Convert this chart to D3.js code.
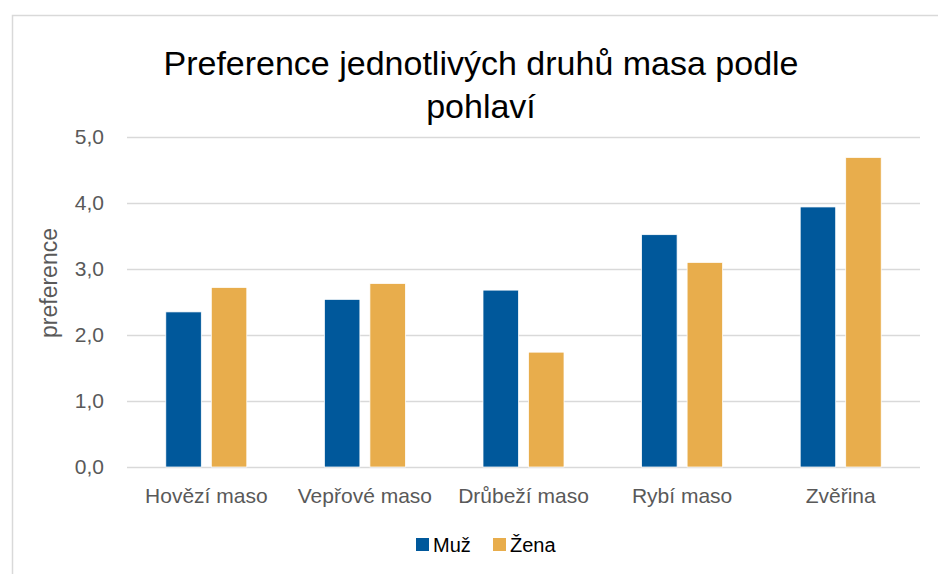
<!DOCTYPE html>
<html>
<head>
<meta charset="utf-8">
<script src="https://cdn.jsdelivr.net/npm/d3@7"></script>
<style>
  body { margin: 0; background: #fff; }
  svg text { font-family: "Liberation Sans", Arial, sans-serif; }
</style>
</head>
<body>
<div id="chart"></div>
<script>
// data
var categories = ["Hovězí maso", "Vepřové maso", "Drůbeží maso", "Rybí maso", "Zvěřina"]
var seriesNames = ["Muž", "Žena"]
var muz = [2.35, 2.54, 2.68, 3.52, 3.94]
var zena = [2.72, 2.78, 1.74, 3.10, 4.69]
var yTicks = [0, 1, 2, 3, 4, 5]

var width = 938, height = 574
var margin = {left: 127, right: 18, top: 137, bottom: 107}
var colors = ["#00589b", "#e8ad4c"]

var svg = d3.select("#chart").append("svg")
  .attr("width", width)
  .attr("height", height)

// ramecek grafu
svg.append("path")
  .attr("d", "M12.5,574 V15.5 H938")
  .attr("fill", "none")
  .attr("stroke", "#d9d9d9")
  .attr("stroke-width", 1.5)

var x0 = d3.scaleBand()
  .domain(categories)
  .range([margin.left, width - margin.right])

var x1 = d3.scaleBand()
  .domain(seriesNames)
  .range([0, 81])
  .paddingInner(0.22)

var y = d3.scaleLinear()
  .domain([0, 5])
  .range([height - margin.bottom, margin.top])

// mrizka
svg.append("g")
  .selectAll("line")
  .data(yTicks)
  .enter().append("line")
  .attr("x1", margin.left)
  .attr("x2", width - margin.right)
  .attr("y1", function(d) { return Math.round(y(d)) + 0.5 })
  .attr("y2", function(d) { return Math.round(y(d)) + 0.5 })
  .attr("stroke", "#d9d9d9")
  .attr("stroke-width", 1.5)

// osa y
var fmt = function(d) { return d3.format(".1f")(d).replace(".", ",") }
var yAxis = svg.append("g")
  .attr("transform", "translate(" + margin.left + ",0)")
  .call(d3.axisLeft(y).tickValues(yTicks).tickFormat(fmt).tickSize(0).tickPadding(23))
yAxis.select(".domain").remove()
yAxis.selectAll("text")
  .attr("fill", "#595959")
  .style("font-size", "21px")

// sloupce
var groups = svg.append("g")
  .selectAll("g")
  .data(categories)
  .enter().append("g")
  .attr("transform", function(d) { return "translate(" + (x0(d) + x0.bandwidth() / 2 - 40.5) + ",0)" })

groups.selectAll("rect")
  .data(function(d, i) { return [{s: "Muž", v: muz[i]}, {s: "Žena", v: zena[i]}] })
  .enter().append("rect")
  .attr("x", function(d) { return x1(d.s) })
  .attr("width", x1.bandwidth())
  .attr("y", function(d) { return y(d.v) })
  .attr("height", function(d) { return y(0) - y(d.v) })
  .attr("fill", function(d, i) { return colors[i] })
  .attr("stroke", "#fff")
  .attr("stroke-width", 0.75)

// osa x
var xAxis = svg.append("g")
  .attr("transform", "translate(0," + y(0) + ")")
  .call(d3.axisBottom(x0).tickSize(0).tickPadding(21))
xAxis.select(".domain").remove()
xAxis.selectAll("text")
  .attr("fill", "#595959")
  .style("font-size", "21px")

// titulek
var title = svg.append("text")
  .attr("text-anchor", "middle")
  .attr("fill", "#000")
  .style("font-size", "34px")
title.append("tspan").attr("x", 481).attr("y", 75).text("Preference jednotlivých druhů masa podle")
title.append("tspan").attr("x", 481).attr("y", 118).text("pohlaví")

// popisek osy y
svg.append("text")
  .attr("transform", "translate(57,283) rotate(-90)")
  .attr("text-anchor", "middle")
  .attr("fill", "#595959")
  .style("font-size", "23px")
  .text("preference")

// legenda
var legend = svg.selectAll(".legend")
  .data(seriesNames)
  .enter().append("g")
  .attr("class", "legend")
  .attr("transform", function(d, i) { return "translate(" + (416 + i * 77) + ",538)" })

legend.append("rect")
  .attr("width", 13)
  .attr("height", 13)
  .attr("fill", function(d, i) { return colors[i] })

legend.append("text")
  .attr("x", 17)
  .attr("y", 7)
  .attr("dy", ".35em")
  .attr("fill", "#000")
  .style("font-size", "20px")
  .text(function(d) { return d })
</script>
</body>
</html>
